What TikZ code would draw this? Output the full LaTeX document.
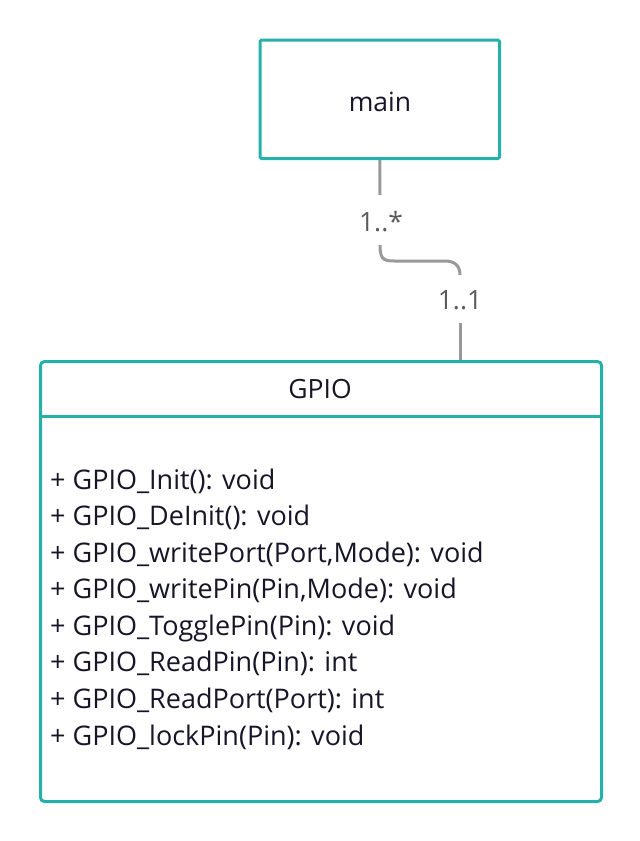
\documentclass[tikz,border=0pt]{standalone}
\usepackage{fontspec}
\setmainfont{Open Sans}
\definecolor{tealc}{RGB}{38,176,170}
\definecolor{linec}{RGB}{153,153,153}
\definecolor{labc}{RGB}{90,90,90}
\definecolor{txtc}{RGB}{22,22,40}
\begin{document}
\begin{tikzpicture}[x=1pt,y=-1pt,
  box/.style={draw=tealc, line width=3pt, fill=white, inner sep=0pt, text=txtc},
  conn/.style={draw=linec, line width=3pt},
  mult/.style={text=labc, inner sep=0pt, font=\fontsize{26.5}{30}\selectfont}]
\useasboundingbox (0,0) rectangle (640,841);
\fill[white] (0,0) rectangle (640,841);
% main box
\node[box, rounded corners=1.5pt, minimum width=239.5pt, minimum height=118.5pt] (main) at (379.75,99.25) {};
\node[text=txtc, inner sep=0pt, font=\fontsize{26.5}{30}\selectfont] (mainlbl) at (380,102) {main};
% GPIO class box
\node[box, rounded corners=4pt, minimum width=561pt, minimum height=440pt, anchor=north west] (gpio) at (39,360) {};
\draw[draw=tealc, line width=3pt] (gpio.west |- 0,416) coordinate (dl) -- (gpio.east |- 0,416) coordinate (dr);
\node[text=txtc, inner sep=0pt, font=\fontsize{26.5}{30}\selectfont] (title) at (320,389) {GPIO};
\node[text=txtc, inner sep=0pt, anchor=west, align=left, font=\fontsize{27}{36.57}\selectfont] (ops) at (50,609) {%
+ GPIO\_Init(): void\\
+ GPIO\_DeInit(): void\\
+ GPIO\_writePort(Port,Mode): void\\
+ GPIO\_writePin(Pin,Mode): void\\
+ GPIO\_TogglePin(Pin): void\\
+ GPIO\_ReadPin(Pin): int\\
+ GPIO\_ReadPort(Port): int\\
+ GPIO\_lockPin(Pin): void};
% multiplicities
\node[mult] (m1) at (381,222) {1..*};
\node[mult] (m2) at (460,300) {1..1};
\coordinate (c1) at (380,195);
\coordinate (c2) at (380,245);
\coordinate (c3) at (460,275);
\coordinate (c4) at (460,323);
% connector
\draw[conn] (main.south) -- (c1);
\draw[conn] (c2) .. controls (380,262) and (385,261) .. (400,261) -- (445,261) .. controls (455,261) and (460,266) .. (c3);
\draw[conn] (c4) -- (gpio.north -| c4);
\end{tikzpicture}
\end{document}
